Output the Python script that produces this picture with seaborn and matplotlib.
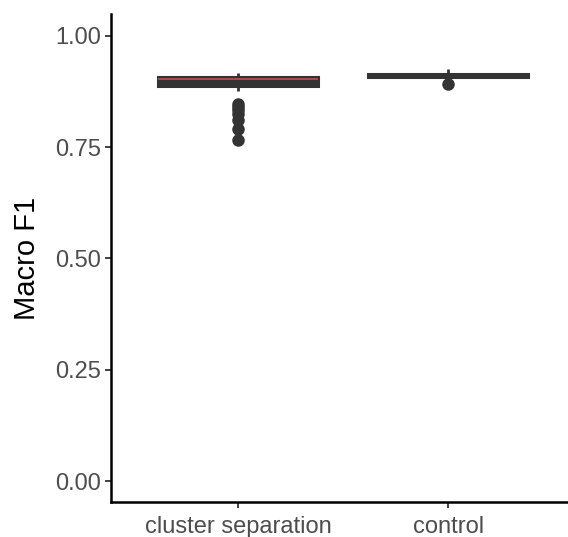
import matplotlib
matplotlib.use("Agg")
import matplotlib.pyplot as plt
import matplotlib.colors as mcolors
import seaborn as sns
import pandas as pd
import numpy as np

categories = ["cluster separation", "control"]

cluster_separation = [
    0.766, 0.790, 0.810, 0.825, 0.833, 0.840, 0.846,
    0.875, 0.880, 0.885, 0.888,
    0.889, 0.891, 0.892, 0.894, 0.895, 0.897, 0.898, 0.900, 0.901,
    0.9025,
    0.903, 0.904, 0.904, 0.905, 0.905, 0.906, 0.906, 0.907, 0.907,
    0.908,
    0.909, 0.909, 0.910, 0.911, 0.912, 0.913, 0.914, 0.915, 0.916,
    0.917,
]

control = [
    0.892, 0.900, 0.903, 0.905, 0.906,
    0.907,
    0.908, 0.909, 0.910, 0.910,
    0.911,
    0.912, 0.913, 0.913, 0.914,
    0.915,
    0.917, 0.919, 0.921, 0.923, 0.925,
]

y_ticks = [0.00, 0.25, 0.50, 0.75, 1.00]
y_tick_labels = ["0.00", "0.25", "0.50", "0.75", "1.00"]

df = pd.DataFrame({
    "group": [categories[0]] * len(cluster_separation) + [categories[1]] * len(control),
    "Macro F1": cluster_separation + control,
})

sns.set_theme(style="white")
plt.rcParams["font.family"] = ["Liberation Sans", "DejaVu Sans"]

fig = plt.figure(figsize=(5.68, 5.37), dpi=100)
ax = fig.add_axes([111 / 568, (537 - 502) / 537, 1 - 111 / 568, (502 - 14) / 537])

dark = "#333333"
red = "#c0504d"
sns.boxplot(
    data=df, x="group", y="Macro F1", order=categories, ax=ax,
    width=0.76, color="white", linewidth=2.2, linecolor=dark,
    showcaps=False,
    boxprops=dict(facecolor=dark, edgecolor=dark),
    whiskerprops=dict(color=dark, linewidth=2.0),
    medianprops=dict(color=red, linewidth=1.2),
    flierprops=dict(marker="o", markerfacecolor=dark, markeredgecolor=dark, markersize=8),
)
# the control median blends into the box in the reference
for ln in ax.lines:
    if mcolors.to_hex(ln.get_color()) == red and np.mean(ln.get_xdata()) > 0.5:
        ln.set_color(dark)

ax.set_xlim(-0.605, 1.571)
ax.set_ylim(-0.047, 1.049)
ax.set_yticks(y_ticks)
ax.set_yticklabels(y_tick_labels)
ax.set_xlabel("")
ax.set_ylabel("Macro F1", fontsize=21, color="black", labelpad=10)

for s in ["top", "right"]:
    ax.spines[s].set_visible(False)
for s in ["left", "bottom"]:
    ax.spines[s].set_color("black")
    ax.spines[s].set_linewidth(1.8)

ax.tick_params(axis="both", which="major", length=4, width=1.3, color=dark,
               labelsize=17, labelcolor="#4D4D4D", pad=3, left=True, bottom=True)
ax.tick_params(axis="x", pad=6)

fig.savefig("out.png", dpi=100)
